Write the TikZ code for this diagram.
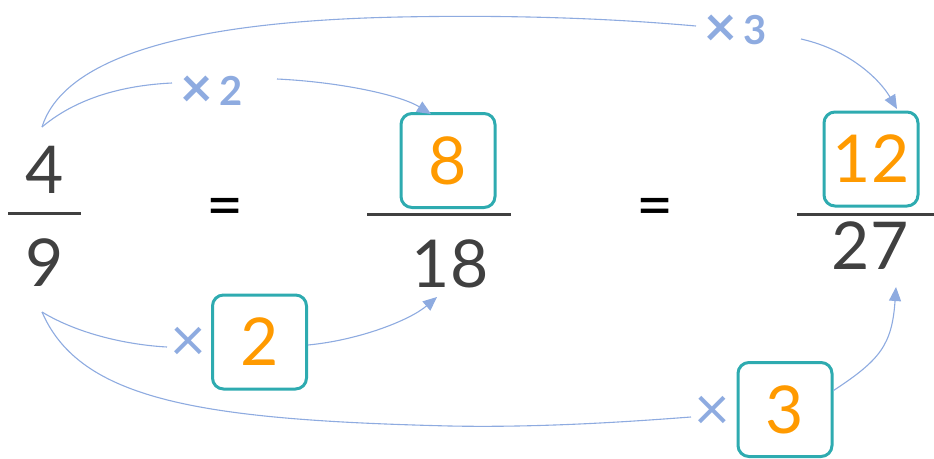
\documentclass[tikz,border=0pt]{standalone}
\usepackage{fontspec}
\usepackage{graphicx}
\setmainfont{Lato}
\usetikzlibrary{arrows.meta}
\definecolor{lnblue}{HTML}{8EABE0}
\definecolor{tealb}{HTML}{2EABB0}
\definecolor{orng}{HTML}{FF9A00}
\definecolor{dgray}{HTML}{404040}
\newcommand{\mymx}{\raisebox{-0.07em}{\scalebox{1.4}{×}}}
\tikzset{
  digit/.style={font=\fontsize{66}{70}\selectfont, text=dgray, inner sep=0pt},
  eqsign/.style={font=\fontsize{64}{70}\selectfont, text=black, inner sep=0pt},
  numbox/.style={draw=tealb, line width=3pt, rounded corners=11pt, minimum width=94pt, minimum height=94pt, inner sep=0pt, text=orng, font=\fontsize{66}{70}\selectfont},
  mult/.style={text=lnblue, font=\fontsize{40}{44}\selectfont\bfseries, inner sep=0pt, anchor=base},
  multx/.style={text=lnblue, font=\fontsize{44}{46}\selectfont, inner sep=0pt},
  conn/.style={draw=lnblue, line width=1.1pt},
  arr/.style={conn, -{Triangle[length=14pt,width=12pt]}},
  fbar/.style={line width=3pt, draw=dgray}
}
\begin{document}
\begin{tikzpicture}[x=1pt,y=-1pt]
\useasboundingbox (0,0) rectangle (934,458);
% fraction 4/9
\node[digit] (n4) at (45,170) {4};
\node[digit] (n9) at (45,263) {9};
\draw[fbar] (8,213) -- (81,213);
\node[eqsign] (e1) at (225,213) {=};
% fraction 8/18
\node[numbox] (b8) at (448,160.5) {8};
\draw[fbar] (367,214) -- (511,214);
\node[digit] (d18) at (450,264) {18};
\node[eqsign] (e2) at (655,213) {=};
% fraction 12/27
\node[numbox] (b12) at (871,159) {12};
\draw[fbar] (797,214) -- (934,214);
\node[digit] (d27) at (870,246) {27};
% multiplier labels
\node[mult] (x2t) at (212,105) {\mymx\,2};
\node[mult] (x3t) at (736,44) {\mymx\,3};
\node[multx] (x2b) at (188,344) {\mymx};
\node[numbox] (b2) at (259.5,342) {2};
\node[multx] (x3b) at (712,413) {\mymx};
\node[numbox] (b3) at (785,409.5) {3};
% connector ends
\coordinate (st) at (42,127);
\coordinate (sb) at (42,312);
\coordinate (x2tL) at (172,83);
\coordinate (x2tR) at (277,79);
\coordinate (x3tL) at (696,26);
\coordinate (x3tR) at (801,39);
\coordinate (x2bL) at (167,347);
\coordinate (x3bL) at (691,417);
\coordinate (t8) at (431,114);
\coordinate (t12) at (897,109);
\coordinate (t18) at (437,297);
\coordinate (t27) at (896,287);
% top x2
\draw[conn] (st) .. controls (80,95) and (130,85) .. (x2tL);
\draw[arr] (x2tR) .. controls (340,82) and (400,95) .. (t8);
% top x3
\draw[conn] (st) .. controls (60,70) and (150,22) .. (400,17) .. controls (550,14) and (650,22) .. (x3tL);
\draw[arr] (x3tR) .. controls (850,50) and (880,80) .. (t12);
% bottom x2
\draw[conn] (sb) .. controls (80,335) and (130,345) .. (x2bL);
\draw[arr] ([yshift=-3pt]b2.east) .. controls (360,340) and (410,320) .. (t18);
% bottom x3
\draw[conn] (sb) .. controls (80,400) and (200,420) .. (450,426) .. controls (550,428) and (650,420) .. (x3bL);
\draw[arr] ([yshift=19pt]b3.east) .. controls (880,360) and (892,345) .. (t27);
\end{tikzpicture}
\end{document}
